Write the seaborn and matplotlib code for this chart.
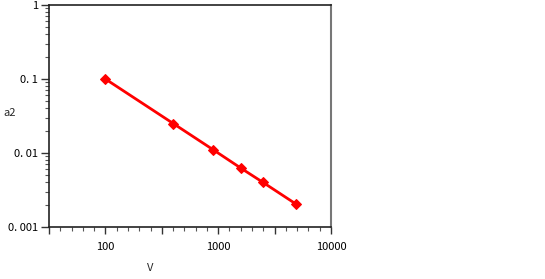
import seaborn as sns
import matplotlib.pyplot as plt
import matplotlib.ticker as mticker
import pandas as pd

# values
v_values = [100, 400, 900, 1600, 2500, 4900]
a2_values = [0.1, 0.025, 0.0111, 0.0062, 0.004, 0.00204]
y_ticks = [0.001, 0.01, 0.1, 1]
y_tick_labels = ['0. 001', '0. 01', '0. 1', '1']
x_ticks = [10 ** 1.5, 100, 10 ** 2.5, 1000, 10 ** 3.5, 10000]
x_tick_labels = ['', '100', '', '1000', '', '10000']

df = pd.DataFrame({'V': v_values, 'a2': a2_values})

sns.set_style('white')
plt.rcParams['font.family'] = ['Noto Sans CJK JP', 'DejaVu Sans']

fig = plt.figure(figsize=(5.45, 2.79), dpi=100, facecolor='white')
ax = fig.add_axes([49 / 545, 52 / 279, 282 / 545, 222 / 279])

sns.lineplot(data=df, x='V', y='a2', color='#ff0000', linewidth=2,
             marker='D', markersize=5, markeredgecolor='#ff0000', ax=ax)

ax.set_xscale('log')
ax.set_yscale('log')
ax.set_xlim(10 ** 1.5, 10000)
ax.set_ylim(0.001, 1)

ax.set_xticks(x_ticks)
ax.set_xticklabels(x_tick_labels)
ax.set_yticks(y_ticks)
ax.set_yticklabels(y_tick_labels)
# x axis: a small tick every tenth of a decade
ax.xaxis.set_minor_locator(mticker.FixedLocator([10 ** (1.5 + 0.1 * i) for i in range(26)]))
ax.yaxis.set_minor_locator(mticker.LogLocator(base=10, subs=range(2, 10)))
ax.xaxis.set_minor_formatter(mticker.NullFormatter())
ax.yaxis.set_minor_formatter(mticker.NullFormatter())

ax.tick_params(axis='x', which='major', direction='out', length=5, width=1,
               colors='#333333', labelcolor='black', labelsize=8, pad=6, bottom=True)
ax.tick_params(axis='y', which='major', direction='out', length=6, width=1,
               colors='#333333', labelcolor='black', labelsize=8, pad=2, left=True)
ax.tick_params(which='minor', direction='out', length=3, width=0.8,
               colors='#555555', bottom=True, left=True)

for side in ['left', 'bottom', 'top']:
    ax.spines[side].set_color('#222222')
    ax.spines[side].set_linewidth(1.2)
ax.spines['right'].set_color('#777777')
ax.spines['right'].set_linewidth(1.5)

ax.set_xlabel(None)
ax.set_ylabel(None)
fig.text(150 / 545, 1 - 268 / 279, 'V', ha='center', va='center', fontsize=8)
fig.text(10 / 545, 1 - 113 / 279, 'a2', ha='center', va='center', fontsize=8)

plt.savefig('out.png', dpi=100, facecolor='white')
